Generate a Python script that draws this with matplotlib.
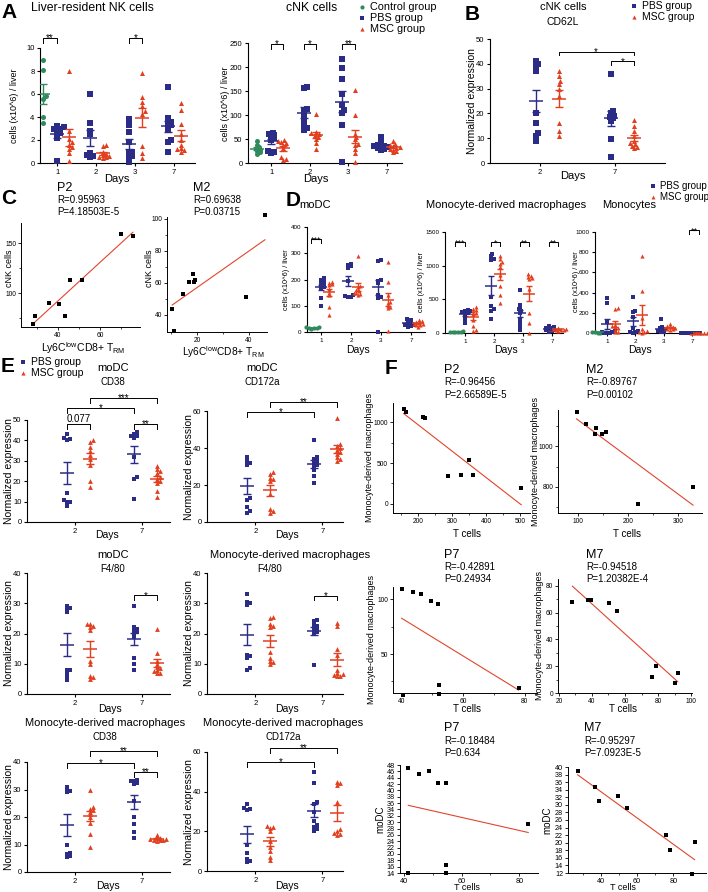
import numpy as np
import matplotlib
matplotlib.use('Agg')
import matplotlib.pyplot as plt

plt.rcParams['font.family'] = ['Liberation Sans', 'DejaVu Sans']
plt.rcParams['mathtext.fontset'] = 'custom'
plt.rcParams['mathtext.rm'] = 'Liberation Sans'
plt.rcParams['axes.linewidth'] = 0.8

NARROW = ['Liberation Sans Narrow', 'Liberation Sans', 'DejaVu Sans']
C_CTRL = '#2f8a5c'
C_PBS = '#2b2c86'
C_MSC = '#e23f1f'
C_FIT = '#e0452e'

# ---------------- data ----------------
DAYS4 = ['1', '2', '3', '7']
DAYS2 = ['2', '7']

# A: Liver-resident NK cells (cells x10^6 / liver)
lrnk_ctrl = [9.0, 8.1, 5.8, 5.6, 4.0, 3.5]
lrnk_pbs = [[3.2, 3.1, 3.0, 3.0, 2.9, 2.6, 2.5, 2.2, 0.2],
            [6.0, 3.5, 2.8, 2.5, 0.9, 0.7, 0.6, 0.5],
            [3.8, 3.3, 2.7, 1.8, 1.0, 0.9, 0.6, 0.5, 0.1],
            [6.6, 3.9, 3.6, 3.5, 3.3, 3.2, 2.9, 2.0, 1.8, 1.0]]
lrnk_msc = [[8.0, 2.8, 2.1, 1.8, 1.6, 1.4, 1.2, 0.9, 0.2],
            [1.6, 1.5, 1.0, 0.8, 0.7, 0.6, 0.5, 0.5, 0.4],
            [7.8, 5.7, 5.3, 5.0, 4.5, 4.3, 1.5, 0.9, 0.4],
            [5.2, 4.6, 3.4, 2.5, 2.0, 1.6, 1.3, 1.2, 1.1, 1.0]]
# A: cNK cells
cnk_ctrl = [46, 38, 33, 30, 28, 25, 22, 19]
cnk_pbs = [[63, 61, 58, 56, 52, 48, 25, 23, 21],
           [158, 157, 112, 110, 100, 90, 78, 72, 68],
           [216, 197, 176, 143, 120, 110, 105, 80, 2],
           [55, 42, 38, 36, 35, 34, 33, 32, 30, 28]]
cnk_msc = [[47, 45, 43, 41, 38, 32, 12, 8, 7],
           [103, 65, 62, 60, 58, 55, 50, 42, 30],
           [153, 101, 60, 55, 50, 40, 38, 30, 20, 2],
           [45, 40, 37, 35, 33, 32, 30, 28, 25, 22]]
# B: cNK CD62L
cd62l_pbs = [[41, 40, 39, 37, 20, 16, 12, 11, 9],
             [36, 21, 20, 19, 18.5, 18, 17, 9.5, 2.5]]
cd62l_msc = [[37, 35, 33, 32, 30, 27, 16, 13, 11],
             [17.5, 15, 13, 11, 9, 8, 7.5, 7, 6.5, 6]]
# C: correlations
c_p2_x = [28.1, 29.2, 36.0, 40.5, 43.2, 46.0, 51.6, 70.1, 75.6]
c_p2_y = [69, 77.3, 90.3, 88.7, 77, 113.3, 113.3, 158.7, 156.7]
c_m2_x = [10.5, 11.1, 14.5, 16.8, 18.6, 18.9, 19.1, 39.1, 46.2]
c_m2_y = [43.7, 30.2, 52.9, 60.8, 65.6, 60.8, 62.0, 51.4, 102.5]
# D
modc_ctrl = [20, 18, 16, 15, 14, 13]
modc_pbs = [[205, 200, 190, 185, 180, 175, 170, 165, 130, 100],
            [260, 255, 250, 245, 195, 140, 138, 135, 135],
            [275, 270, 200, 195, 185, 140, 135, 130, 0],
            [50, 45, 42, 35, 30, 28, 25, 22, 20]]
modc_msc = [[192, 188, 182, 178, 165, 150, 140, 95, 65],
            [290, 175, 170, 160, 155, 150, 148, 145, 140],
            [265, 190, 140, 115, 110, 100, 95, 90, 5],
            [45, 42, 40, 35, 32, 30, 28, 25, 20]]
mac_ctrl = [25, 20, 18, 15, 12, 10]
mac_pbs = [[340, 330, 320, 310, 300, 290, 250, 200, 150],
           [1180, 1150, 1100, 1080, 530, 400, 350, 330, 210],
           [640, 420, 380, 350, 330, 300, 200, 150, 100, 50],
           [100, 90, 80, 70, 60, 50, 40, 30, 20]]
mac_msc = [[380, 360, 340, 320, 300, 280, 200, 100, 50, 30],
           [1150, 1100, 1050, 1020, 980, 860, 700, 560, 450],
           [870, 850, 830, 820, 800, 650, 300, 150, 0],
           [70, 65, 60, 55, 50, 45, 40, 35]]
mono_ctrl = [10, 8, 6, 5, 4, 3]
mono_pbs = [[345, 300, 110, 20, 10, 5, 3, 2, 0],
            [360, 220, 210, 160, 50, 20, 10, 5, 0],
            [140, 60, 50, 40, 30, 20, 10, 5],
            [3, 2, 2, 1, 1, 1, 0, 0]]
mono_msc = [[250, 235, 80, 65, 55, 45, 30, 10, 5],
            [760, 420, 150, 40, 20, 10, 5, 0],
            [90, 70, 60, 55, 50, 45, 40, 35, 30],
            [3, 2, 2, 1, 1, 1, 0, 0]]
# E: normalized expression (day 2, day 7)
e_modc_cd38_pbs = [[43, 41, 40.5, 40, 14, 11, 10, 10, 8], [44, 43, 42, 42, 41, 32, 22, 21, 11.5]]
e_modc_cd38_msc = [[40, 39, 37, 35, 33, 31, 28, 20, 17], [27.5, 26, 25, 24, 22, 21, 20, 19, 15, 12.5]]
e_modc_cd172_pbs = [[35, 33, 32, 31, 13, 12, 8, 6, 5], [44.5, 35, 34, 33, 32, 31, 30, 28, 25, 21]]
e_modc_cd172_msc = [[27, 26, 24, 23, 22, 15, 7, 6, 5], [56, 42, 41, 40, 39, 38, 37, 35, 34, 33]]
e_modc_f480_pbs = [[29, 28.5, 28, 27, 8, 8, 7, 6, 4.5], [29, 22, 21.5, 21, 20.5, 20, 19, 12, 10, 8]]
e_modc_f480_msc = [[23, 23, 22.5, 22, 21, 11, 10, 6, 5.5, 5], [21.5, 13.5, 11, 10, 9, 8.5, 8, 7.5, 7, 7]]
e_mac_f480_pbs = [[33, 30.5, 30, 29.5, 13, 12.5, 12, 8.5, 8], [24.5, 24, 23, 22.5, 22, 21.5, 21, 20.5, 20, 9.5]]
e_mac_f480_msc = [[25.5, 25, 23, 22.5, 22, 14, 12, 11, 10.5, 10], [23.5, 22.5, 15, 13, 8, 7, 6.5, 6.2, 6, 6]]
e_mac_cd38_pbs = [[31, 30, 29.5, 29, 10, 7, 6.5, 6, 5.5], [33.5, 33, 33, 32.5, 32, 26, 20, 17.5, 14.5, 12.5]]
e_mac_cd38_msc = [[30, 23.5, 23, 22.5, 22, 21, 20, 18, 14, 9], [13.5, 12.5, 12.3, 12, 12, 11.8, 11.7, 11.5, 11.3]]
e_mac_cd172_pbs = [[34, 32, 31.5, 31, 13, 9, 6, 5, 4.5], [50, 44.5, 35, 34, 30, 25, 23, 22, 21, 20]]
e_mac_cd172_msc = [[22.5, 22, 21.5, 20, 15, 12, 10, 7, 5.5], [45, 44.5, 43.5, 35, 21, 20, 19, 18.5, 18]]
# F: correlations with T cells
f_p2_t = [157, 164, 214, 221, 287, 326, 361, 351, 503]
f_p2_mac = [1158, 1127, 1063, 1047, 345, 349, 349, 535, 198]
f_m2_t = [97, 115, 136, 133, 147, 155, 220, 330]
f_m2_mac = [1164, 1109, 1086, 1057, 1057, 1068, 716, 798]
f_p7_t = [40, 43.6, 46.4, 49.5, 51.8, 40.3, 52.3, 52.3, 78]
f_p7_mac = [109, 106.4, 104.3, 97.9, 95.5, 13, 22, 13.6, 19.4]
f_m7_t = [28.1, 37.4, 39.3, 50.1, 55.0, 76.2, 78.8, 90.5, 92.0]
f_m7_mac = [68, 69, 69.4, 66.9, 61, 12, 20, 7.6, 14.6]
f_p7d_t = [41.5, 45.3, 48.5, 51.8, 54.4, 83.1, 54.7, 54.5, 41.5]
f_p7d_dc = [47.2, 45.1, 46.1, 42.2, 42.2, 29.4, 16.6, 14.1, 13.9]
f_m7d_t = [27.3, 36.6, 38.8, 49.7, 54.7, 75.9, 78.2, 91.7, 90.1]
f_m7d_dc = [38.9, 34.7, 30.9, 32.3, 29.2, 22.0, 18.1, 20.1, 11.8]

# ---------------- figure ----------------
W, H = 708, 892
fig = plt.figure(figsize=(W / 100, H / 100), dpi=100)


def axpx(l, t, r, b):
    return fig.add_axes([l / W, 1 - b / H, (r - l) / W, (b - t) / H])


def T(x, y, s, size, ha='center', va='center', **kw):
    fig.text(x / W, 1 - y / H, s, fontsize=size, ha=ha, va=va, **kw)


ov = fig.add_axes([0, 0, 1, 1], zorder=-5)
ov.set_xlim(0, W)
ov.set_ylim(H, 0)
ov.axis('off')


def swarm(ypx, d):
    n = len(ypx)
    order = np.argsort(ypx)
    placed = []
    out = np.zeros(n)
    cand = [0.0]
    for k in range(1, 10):
        cand += [k * 0.35 * d, -k * 0.35 * d]
    for i in order:
        for c in cand:
            if all((c - px) ** 2 + (ypx[i] - py) ** 2 >= (0.62 * d) ** 2 for px, py in placed):
                break
        placed.append((c, ypx[i]))
        out[i] = c
    return out


def draw_group(ax, x, vals, color, marker, ppx, ppy, s, d, mw, cap):
    vals = np.asarray(vals, float)
    dx = swarm(vals * ppy, d) / ppx
    ax.scatter(x + dx, vals, s=s, marker=marker, color=color, linewidths=0,
               clip_on=False, zorder=3)
    m = vals.mean()
    se = vals.std(ddof=1) / np.sqrt(len(vals))
    ax.errorbar([x], [m], yerr=[se], fmt='none', ecolor=color, elinewidth=1,
                capsize=cap, capthick=1, zorder=4)
    ax.plot([x], [m], marker='_', ms=mw, mew=1.1, color=color, zorder=4)


def gp_panel(box, xlim, ylim, yticks, xlabels, ctrl, pbs, msc, offs, fs=5.5,
             s=13, d=4.6, mw=10, cap=3):
    l, t, r, b = box
    ax = axpx(l, t, r, b)
    ax.set_xlim(*xlim)
    ax.set_ylim(*ylim)
    ppx = (r - l) / (xlim[1] - xlim[0])
    ppy = (b - t) / (ylim[1] - ylim[0])
    for sp in ('top', 'right'):
        ax.spines[sp].set_visible(False)
    ax.set_yticks(yticks)
    ax.set_xticks(range(len(xlabels)))
    ax.set_xticklabels(xlabels)
    ax.tick_params(direction='out', length=2.5, width=0.8, labelsize=fs, pad=1.5)
    ax.patch.set_alpha(0)
    pos = {}
    if ctrl is not None:
        pos['c'] = offs['c']
        draw_group(ax, pos['c'], ctrl, C_CTRL, 'o', ppx, ppy, s, d, mw, cap)
    for i in range(len(xlabels)):
        if ctrl is not None and i == 0:
            po, mo = offs['p1'], offs['m1']
        else:
            po, mo = offs['p'], offs['m']
        pos[('p', i)] = i + po
        pos[('m', i)] = i + mo
        draw_group(ax, i + po, pbs[i], C_PBS, 's', ppx, ppy, s, d, mw, cap)
        draw_group(ax, i + mo, msc[i], C_MSC, '^', ppx, ppy, s, d, mw, cap)
    return ax, pos


def bracket(ax, x1, x2, y, drop, text, fs=7, dy=-2.5):
    ax.plot([x1, x1, x2, x2], [y - drop, y, y, y - drop], color='k', lw=0.7,
            clip_on=False, zorder=5)
    ax.annotate(text, ((x1 + x2) / 2, y), xytext=(0, dy), textcoords='offset points',
                ha='center', va='baseline', fontsize=fs, annotation_clip=False)


def corr(box, x, y, xlim, ylim, xt, yt, xminor=None, yminor=None, fs=4.8, s=9):
    ax = axpx(*box)
    x = np.asarray(x, float)
    y = np.asarray(y, float)
    k, b0 = np.polyfit(x, y, 1)
    xs = np.array([x.min(), x.max()])
    ax.plot(xs, k * xs + b0, color=C_FIT, lw=0.8, zorder=2)
    ax.scatter(x, y, s=s, marker='s', color='k', linewidths=0, zorder=3, clip_on=False)
    ax.set_xlim(*xlim)
    ax.set_ylim(*ylim)
    for sp in ('top', 'right'):
        ax.spines[sp].set_visible(False)
    for sp in ('left', 'bottom'):
        ax.spines[sp].set_linewidth(0.7)
    ax.set_xticks(xt)
    ax.set_yticks(yt)
    if xminor is not None:
        ax.set_xticks(xminor, minor=True)
    if yminor is not None:
        ax.set_yticks(yminor, minor=True)
    ax.tick_params(which='major', direction='out', length=2.5, width=0.6,
                   labelsize=fs, pad=1, labelfontfamily=NARROW)
    ax.tick_params(which='minor', direction='out', length=1.5, width=0.5)
    ax.patch.set_alpha(0)
    return ax


# ---------------- Panel A ----------------
T(9, 13, 'A', 15, weight='bold')
T(92, 8, 'Liver-resident NK cells', 8.8)
offsA = {'c': -0.36, 'p1': 0.0, 'm1': 0.3, 'p': -0.15, 'm': 0.17}
ax, pos = gp_panel((40, 48, 195, 163), (-0.44, 3.54), (0, 10), [0, 2, 4, 6, 8, 10],
                   DAYS4, lrnk_ctrl, lrnk_pbs, lrnk_msc, offsA)
bracket(ax, pos['c'], pos[('p', 0)], 10.9, 0.45, '**')
bracket(ax, pos[('p', 2)], pos[('m', 2)], 10.9, 0.45, '*')
T(15, 106, 'cells (x10^6) / liver', 6.5, rotation=90)
T(117, 179, 'Days', 8)

T(312, 8, 'cNK cells', 8.8)
ax, pos = gp_panel((248, 43, 402, 163), (-0.6, 3.4), (0, 250), [0, 50, 100, 150, 200, 250],
                   DAYS4, cnk_ctrl, cnk_pbs, cnk_msc, offsA)
for i, st in [(0, '*'), (1, '*'), (2, '**')]:
    bracket(ax, pos[('p', i)], pos[('m', i)], 248, 10, st)
T(226, 104, 'cells (x10^6) / liver', 6.5, rotation=90)
T(316, 179, 'Days', 8)

# legend A
for y, c, mk, lab in [(7, C_CTRL, 'o', 'Control group'), (18, C_PBS, 's', 'PBS group'),
                      (29, C_MSC, '^', 'MSC group')]:
    ov.scatter([362], [y], s=9, marker=mk, color=c, linewidths=0)
    T(370, y, lab, 7.8, ha='left')

# ---------------- Panel B ----------------
T(472, 14, 'B', 15, weight='bold')
T(563, 7, 'cNK cells', 8)
T(563, 22, 'CD62L', 7.5)
for y, c, mk, lab in [(6, C_PBS, 's', 'PBS group'), (17, C_MSC, '^', 'MSC group')]:
    ov.scatter([634], [y], s=9, marker=mk, color=c, linewidths=0)
    T(642, y, lab, 7.5, ha='left')
offsB = {'p': -0.05, 'm': 0.25}
ax, pos = gp_panel((490, 39, 665, 163), (-0.67, 1.67), (0, 50), [0, 10, 20, 30, 40, 50],
                   DAYS2, None, cd62l_pbs, cd62l_msc, offsB)
bracket(ax, pos[('m', 0)], pos[('m', 1)], 44.8, 1.3, '*')
bracket(ax, pos[('p', 1)], pos[('m', 1)], 41, 1.3, '*')
T(472, 101, 'Normalized expression', 7.5, rotation=90)
T(573, 176, 'Days', 8)

# ---------------- Panel C ----------------
T(9, 198, 'C', 15, weight='bold')
T(57, 188, 'P2', 9, ha='left')
T(57, 200, 'R=0.95963', 7, ha='left')
T(57, 212, 'P=4.18503E-5', 7, ha='left')
corr((21, 223, 140, 327), c_p2_x, c_p2_y, (22.5, 79), (66, 170), [40, 60], [100, 150],
     xminor=[30, 50, 70], yminor=[75, 125])
T(10, 268, 'cNK cells', 6.5, rotation=90)
T(83, 348, r'Ly6C$^{\rm low}$CD8+ T$_{\rm RM}$', 7.5)

T(193, 188, 'M2', 9, ha='left')
T(193, 200, 'R=0.69638', 7, ha='left')
T(193, 212, 'P=0.03715', 7, ha='left')
corr((167, 217, 267, 332), c_m2_x, c_m2_y, (8.5, 47), (29.4, 101), [20, 40],
     [40, 60, 80, 100], xminor=[10, 30], yminor=[50, 70, 90])
T(150, 268, 'cNK cells', 6.5, rotation=90)
T(223, 352, r'Ly6C$^{\rm low}$CD8+ T$_{\rm RM}$', 7.3)

# ---------------- Panel D ----------------
T(293, 200, 'D', 15, weight='bold')
T(315, 205, 'moDC', 8)
T(506, 205, 'Monocyte-derived macrophages', 8)
T(629, 205, 'Monocytes', 8)
for y, c, mk, lab in [(186, C_PBS, 's', 'PBS group'), (197, C_MSC, '^', 'MSC group')]:
    ov.scatter([653], [y], s=8, marker=mk, color=c, linewidths=0)
    T(660, y, lab, 7, ha='left')
offsD = {'c': -0.33, 'p1': 0.0, 'm1': 0.28, 'p': -0.1, 'm': 0.22}
dkw = dict(fs=4.5, s=9, d=3.8, mw=8, cap=2.5)
ax, pos = gp_panel((307, 227, 425, 332), (-0.47, 3.47), (0, 400), [0, 100, 200, 300, 400],
                   DAYS4, modc_ctrl, modc_pbs, modc_msc, offsD, **dkw)
bracket(ax, pos['c'], pos[('p', 0)], 354, 14, '***', fs=6.5)
T(287, 280, 'cells (x10^6) / liver', 5.3, rotation=90)
T(358, 350, 'Days', 7.5)

ax, pos = gp_panel((445, 232, 563, 333), (-0.69, 3.38), (0, 1500), [0, 500, 1000, 1500],
                   DAYS4, mac_ctrl, mac_pbs, mac_msc, offsD, **dkw)
bracket(ax, pos['c'], pos[('p', 0)], 1350, 55, '***', fs=6.5)
for i, st in [(1, '*'), (2, '**'), (3, '**')]:
    bracket(ax, pos[('p', i)], pos[('m', i)], 1350, 55, st, fs=6.5)
T(421, 282, 'cells (x10^6) / liver', 5.2, rotation=90)
T(506, 350, 'Days', 7.5)

ax, pos = gp_panel((595, 232, 698, 333), (-0.42, 3.2), (0, 1000), [0, 200, 400, 600, 800, 1000],
                   DAYS4, mono_ctrl, mono_pbs, mono_msc, offsD, **dkw)
bracket(ax, pos[('p', 3)], pos[('m', 3)], 1015, 35, '**', fs=6.5)
T(576, 282, 'cells (x10^6) / liver', 5.3, rotation=90)
T(640, 350, 'Days', 7.5)

# ---------------- Panel E ----------------
T(8, 366, 'E', 15, weight='bold')
for y, c, mk, lab in [(362, C_PBS, 's', 'PBS group'), (373, C_MSC, '^', 'MSC group')]:
    ov.scatter([23], [y], s=9, marker=mk, color=c, linewidths=0)
    T(31, y, lab, 7.5, ha='left')
offsE = {'p': -0.12, 'm': 0.22}
ekw = dict(fs=5.5, s=12, d=4.4, mw=10, cap=3)

T(113, 368, 'moDC', 8)
T(113, 382, 'CD38', 7)
ax, pos = gp_panel((27, 420, 170, 522), (-0.72, 1.42), (0, 50), [0, 10, 20, 30, 40, 50],
                   DAYS2, None, e_modc_cd38_pbs, e_modc_cd38_msc, offsE, **ekw)
bracket(ax, pos[('p', 0)], pos[('m', 0)], 48, 2.5, '0.077', fs=7, dy=1.5)
bracket(ax, pos[('p', 0)], pos[('p', 1)], 56, 2.5, '*')
bracket(ax, pos[('m', 0)], pos[('m', 1)], 61, 2.5, '***')
bracket(ax, pos[('p', 1)], pos[('m', 1)], 48, 2.5, '**')
T(9, 471, 'Normalized expression', 7.5, rotation=90)
T(107, 535, 'Days', 7.5)

T(262, 368, 'moDC', 8)
T(262, 382, 'CD172a', 7)
ax, pos = gp_panel((207, 411, 343, 522), (-0.72, 1.31), (0, 60), [0, 20, 40, 60],
                   DAYS2, None, e_modc_cd172_pbs, e_modc_cd172_msc, offsE, **ekw)
bracket(ax, pos[('p', 0)], pos[('p', 1)], 59.5, 3, '*')
bracket(ax, pos[('m', 0)], pos[('m', 1)], 65, 3, '**')
T(189, 467, 'Normalized expression', 7.5, rotation=90)
T(287, 535, 'Days', 7.5)

T(113, 555, 'moDC', 8)
T(113, 569, 'F4/80', 7)
ax, pos = gp_panel((27, 573, 170, 694), (-0.72, 1.42), (0, 40), [0, 10, 20, 30, 40],
                   DAYS2, None, e_modc_f480_pbs, e_modc_f480_msc, offsE, **ekw)
bracket(ax, pos[('p', 1)], pos[('m', 1)], 32.6, 1.5, '*')
T(9, 633, 'Normalized expression', 7.5, rotation=90)
T(110, 709, 'Days', 7.5)

T(290, 555, 'Monocyte-derived macrophages', 8)
T(270, 569, 'F4/80', 7)
ax, pos = gp_panel((207, 573, 343, 694), (-0.72, 1.31), (0, 40), [0, 10, 20, 30, 40],
                   DAYS2, None, e_mac_f480_pbs, e_mac_f480_msc, offsE, **ekw)
bracket(ax, pos[('p', 1)], pos[('m', 1)], 32.5, 1.5, '*')
T(189, 633, 'Normalized expression', 7.5, rotation=90)
T(287, 709, 'Days', 7.5)

T(105, 723, 'Monocyte-derived macrophages', 8)
T(105, 737, 'CD38', 7)
ax, pos = gp_panel((27, 762, 170, 872), (-0.72, 1.42), (0, 40), [0, 10, 20, 30, 40],
                   DAYS2, None, e_mac_cd38_pbs, e_mac_cd38_msc, offsE, **ekw)
bracket(ax, pos[('p', 0)], pos[('p', 1)], 39.7, 1.8, '*')
bracket(ax, pos[('m', 0)], pos[('m', 1)], 44, 1.8, '**')
bracket(ax, pos[('p', 1)], pos[('m', 1)], 36.5, 1.8, '**')
T(9, 817, 'Normalized expression', 7.5, rotation=90)
T(108, 886, 'Days', 7.5)

T(283, 723, 'Monocyte-derived macrophages', 8)
T(283, 737, 'CD172a', 7)
ax, pos = gp_panel((207, 752, 343, 871), (-0.72, 1.31), (0, 60), [0, 20, 40, 60],
                   DAYS2, None, e_mac_cd172_pbs, e_mac_cd172_msc, offsE, **ekw)
bracket(ax, pos[('p', 0)], pos[('p', 1)], 55, 2.5, '*')
bracket(ax, pos[('m', 0)], pos[('m', 1)], 62, 2.5, '**')
T(189, 812, 'Normalized expression', 7.5, rotation=90)
T(287, 886, 'Days', 7.5)

# ---------------- Panel F ----------------
T(391, 368, 'F', 15, weight='bold')
fl = [('P2', 'R=-0.96456', 'P=2.66589E-5', 444, 370),
      ('M2', 'R=-0.89767', 'P=0.00102', 586, 370),
      ('P7', 'R=-0.42891', 'P=0.24934', 444, 555),
      ('M7', 'R=-0.94518', 'P=1.20382E-4', 586, 555),
      ('P7', 'R=-0.18484', 'P=0.634', 444, 728),
      ('M7', 'R=-0.95297', 'P=7.0923E-5', 584, 728)]
for a, r, p, x, y in fl:
    T(x, y, a, 9, ha='left')
    T(x, y + 12.5, r, 7, ha='left')
    T(x, y + 24.5, p, 7, ha='left')

corr((393, 403, 530, 513), f_p2_t, f_p2_mac, (126, 529), (-110, 1232),
     [200, 300, 400, 500], [0, 500, 1000], xminor=[150, 250, 350, 450], yminor=[250, 750])
corr((558, 410, 702, 513), f_m2_t, f_m2_mac, (60, 348), (673, 1176),
     [100, 200, 300], [800, 1000], xminor=[150, 250], yminor=[700, 900, 1100])
corr((393, 587, 537, 693), f_p7_t, f_p7_mac, (37.2, 84), (14.5, 111),
     [40, 60, 80], [50, 100], xminor=[50, 70], yminor=[25, 75])
corr((558, 579, 692, 693), f_m7_t, f_m7_mac, (19.4, 100.6), (0, 85),
     [20, 40, 60, 80, 100], [0, 20, 40, 60, 80], xminor=[30, 50, 70, 90], yminor=[10, 30, 50, 70])
corr((400, 765, 538, 873), f_p7d_t, f_p7d_dc, (38.6, 86.5), (14, 48),
     [40, 60, 80], list(range(14, 49, 2)), xminor=[50, 70], fs=5.2)
corr((568, 767, 706, 873), f_m7d_t, f_m7d_dc, (22, 98), (12, 40),
     [40, 60, 80], list(range(12, 41, 2)), xminor=[30, 50, 70, 90], fs=5.2)

for x, y in [(369, 458), (535, 461), (371, 640), (539, 636)]:
    T(x, y, 'Monocyte-derived macrophages', 6.5, rotation=90, family=NARROW)
for x, y in [(380, 819), (547, 820)]:
    T(x, y, 'moDC', 7, rotation=90, family=NARROW)
for x, y in [(467, 534), (627, 534), (467, 709), (623, 709)]:
    T(x, y, 'T cells', 7, family=NARROW)
for x, y in [(467, 888), (623, 888)]:
    T(x, y, 'T cells', 6.5, family=NARROW)

fig.savefig('out.png', dpi=100)
